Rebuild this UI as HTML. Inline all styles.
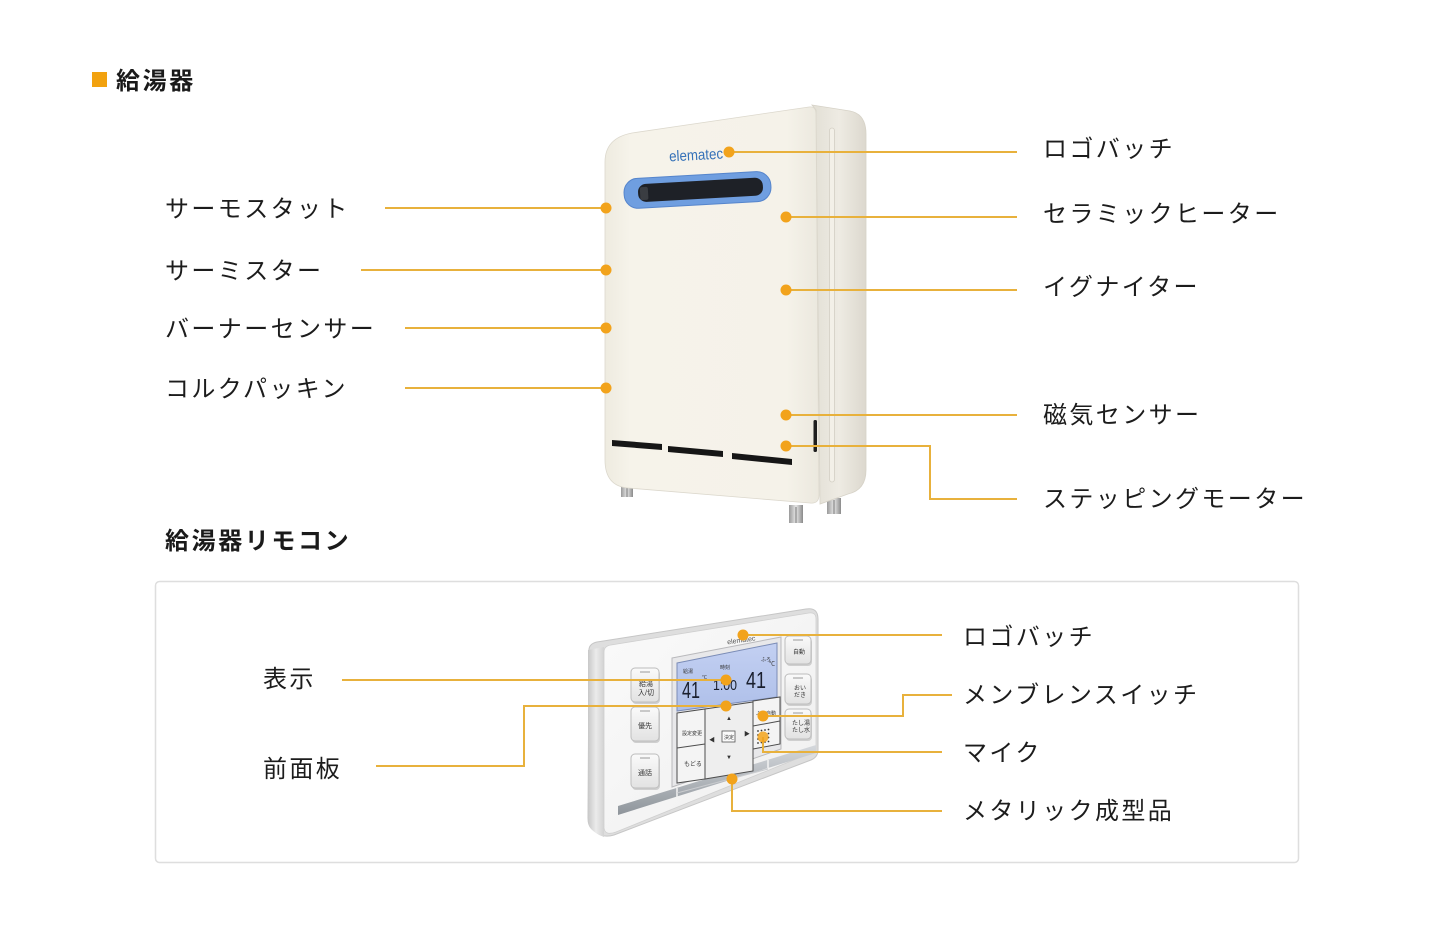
<!DOCTYPE html>
<html><head><meta charset="utf-8"><style>
html,body{margin:0;padding:0;background:#fff;}
svg{display:block;}
.lb{font-family:"Liberation Sans","Noto Sans CJK JP",sans-serif;font-size:24px;fill:#1c1c1c;letter-spacing:2.4px;}
.tt{font-family:"Liberation Sans","Noto Sans CJK JP",sans-serif;font-size:24px;font-weight:bold;fill:#1a1a1a;letter-spacing:2.6px;}
.sm{font-family:"Liberation Sans","Noto Sans CJK JP",sans-serif;fill:#333;}
.ln{stroke:#e8b13c;stroke-width:2;fill:none;}
.dt{fill:#f2a31c;}
</style></head><body>
<svg width="1456" height="936" viewBox="0 0 1456 936" xmlns="http://www.w3.org/2000/svg">
<defs>
<linearGradient id="gf" x1="0" y1="0" x2="1" y2="0">
<stop offset="0" stop-color="#eeebe0"/><stop offset="0.12" stop-color="#f6f3ea"/><stop offset="0.85" stop-color="#f5f2e9"/><stop offset="1" stop-color="#ebe8de"/>
</linearGradient>
<linearGradient id="gs" x1="0" y1="0" x2="1" y2="0">
<stop offset="0" stop-color="#e2dfd5"/><stop offset="0.5" stop-color="#eeebe3"/><stop offset="1" stop-color="#dcd8ce"/>
</linearGradient>
<linearGradient id="gfoot" x1="0" y1="0" x2="1" y2="0">
<stop offset="0" stop-color="#9a9a9a"/><stop offset="0.5" stop-color="#e6e6e6"/><stop offset="1" stop-color="#8a8a8a"/>
</linearGradient>
<linearGradient id="rf" x1="0" y1="0" x2="1" y2="1">
<stop offset="0" stop-color="#fafafa"/><stop offset="1" stop-color="#efefef"/>
</linearGradient>
<linearGradient id="rs" x1="0" y1="0" x2="1" y2="0">
<stop offset="0" stop-color="#c8c8c8"/><stop offset="0.5" stop-color="#ebebeb"/><stop offset="1" stop-color="#d2d2d2"/>
</linearGradient>
<linearGradient id="strip" x1="0" y1="0" x2="0" y2="1">
<stop offset="0" stop-color="#d5d8dc"/><stop offset="1" stop-color="#8f959b"/>
</linearGradient>
<linearGradient id="lcd" x1="0" y1="0" x2="0" y2="1">
<stop offset="0" stop-color="#c3d0f2"/><stop offset="1" stop-color="#aebfe9"/>
</linearGradient>
<linearGradient id="btn" x1="0" y1="0" x2="0" y2="1">
<stop offset="0" stop-color="#fafafa"/><stop offset="1" stop-color="#e2e2e2"/>
</linearGradient>
</defs>

<!-- Title -->
<rect x="92" y="72" width="15" height="15" fill="#f2a20f"/>
<text class="tt" x="116" y="89">給湯器</text>

<!-- Water heater -->
<rect x="621" y="484" width="12" height="13" fill="url(#gfoot)"/>
<line x1="627" y1="486" x2="627" y2="497" stroke="#777" stroke-width="1"/>
<rect x="789" y="505" width="14" height="18" fill="url(#gfoot)"/>
<line x1="796" y1="507" x2="796" y2="523" stroke="#777" stroke-width="1"/>
<rect x="827" y="498" width="14" height="16" fill="url(#gfoot)"/>
<line x1="834" y1="500" x2="834" y2="514" stroke="#777" stroke-width="1"/>
<path d="M812,105 L850,111 Q866,114 866,134 L866,470 Q866,490 848,494 L820,504 L816,110 Z" fill="url(#gs)" stroke="#d6d2c7" stroke-width="0.8"/>
<rect x="829.5" y="128" width="5" height="354" rx="2.5" fill="#f3f0e8" stroke="#d3cfc4" stroke-width="0.8"/>
<path d="M605,162 Q605,138 632,133 L809,107 Q816,106 816,114 L819,495 Q819,504 810,503 L628,488 Q605,486 605,460 Z" fill="url(#gf)" stroke="#dcd8cd" stroke-width="0.8"/>
<text x="669" y="160" font-family="Liberation Sans, sans-serif" font-size="15" fill="#3571b8" textLength="54" lengthAdjust="spacingAndGlyphs" transform="rotate(-3 696 154)">elematec</text>
<g transform="rotate(-3.2 697 190)">
<rect x="624" y="175" width="147" height="30" rx="14" fill="#6f9ee0" stroke="#5685cc" stroke-width="1"/>
<rect x="638" y="181" width="125" height="18" rx="8" fill="#1e2127"/>
<rect x="640" y="184" width="8" height="13" rx="2" fill="#3a3d42"/>
</g>
<polygon points="612,440 662,444 662,450 612,446" fill="#161616"/>
<polygon points="668,446 723,451 723,457 668,452" fill="#161616"/>
<polygon points="732,453 792,459 792,465 732,459" fill="#161616"/>
<rect x="813.5" y="420" width="3.5" height="32" rx="1.5" fill="#1d1d1d"/>

<line class="ln" x1="385" y1="208" x2="606" y2="208"/>
<line class="ln" x1="361" y1="270" x2="606" y2="270"/>
<line class="ln" x1="405" y1="328" x2="606" y2="328"/>
<line class="ln" x1="405" y1="388" x2="606" y2="388"/>
<line class="ln" x1="729" y1="152" x2="1017" y2="152"/>
<line class="ln" x1="786" y1="217" x2="1017" y2="217"/>
<line class="ln" x1="786" y1="290" x2="1017" y2="290"/>
<line class="ln" x1="786" y1="415" x2="1017" y2="415"/>
<polyline class="ln" points="786,446 930,446 930,499 1017,499"/>
<circle class="dt" cx="606" cy="208" r="5.5"/>
<circle class="dt" cx="606" cy="270" r="5.5"/>
<circle class="dt" cx="606" cy="328" r="5.5"/>
<circle class="dt" cx="606" cy="388" r="5.5"/>
<circle class="dt" cx="729" cy="152" r="5.5"/>
<circle class="dt" cx="786" cy="217" r="5.5"/>
<circle class="dt" cx="786" cy="290" r="5.5"/>
<circle class="dt" cx="786" cy="415" r="5.5"/>
<circle class="dt" cx="786" cy="446" r="5.5"/>

<text class="lb" x="165" y="217">サーモスタット</text>
<text class="lb" x="165" y="279">サーミスター</text>
<text class="lb" x="165" y="337">バーナーセンサー</text>
<text class="lb" x="165" y="397">コルクパッキン</text>
<text class="lb" x="1043" y="157">ロゴバッチ</text>
<text class="lb" x="1043" y="222">セラミックヒーター</text>
<text class="lb" x="1043" y="295">イグナイター</text>
<text class="lb" x="1043" y="423">磁気センサー</text>
<text class="lb" x="1043" y="507">ステッピングモーター</text>

<!-- Remote section -->
<text class="tt" x="165" y="549">給湯器リモコン</text>
<rect x="155.5" y="581.5" width="1143" height="281" rx="4" fill="#fff" stroke="#dedede" stroke-width="1.5"/>

<path d="M589,652 Q588,644 597,642 L806,609 Q818,607 818,619 L818,750 Q818,757 811,760 L614,835 Q604,838 597,833 L591,828 Q588,825 588,818 Z" fill="#dedede" stroke="#c6c6c6" stroke-width="1"/>
<path d="M588,650 L604,647 L604,837 Q596,834 591,829 Q588,825 588,818 Z" fill="url(#rs)"/>
<path d="M604,652 Q604,646 611,645 L809,613 Q816,612 816,619 L816,751 L616,832 Q605,836 604,828 Z" fill="url(#rf)" stroke="#cfcfcf" stroke-width="0.8"/>
<polygon points="618,806 816,745 816,753 618,815" fill="url(#strip)"/>
<line x1="677" y1="788" x2="677" y2="797" stroke="#f2f2f2" stroke-width="1.5"/>
<line x1="768" y1="760" x2="768" y2="768" stroke="#f2f2f2" stroke-width="1.5"/>
<line x1="677" y1="793" x2="768" y2="769" stroke="#c9cbce" stroke-width="1"/>

<polygon points="672,658 781,637 781,749 672,787" fill="#e8e8ea" stroke="#b9b9bc" stroke-width="1"/>
<polygon points="677,663 777,643 777,697 677,711" fill="url(#lcd)" stroke="#7b8cb6" stroke-width="1"/>
<text class="sm" x="683" y="673" font-size="5" fill="#1d2233">給湯</text>
<text x="682" y="698" font-family="Liberation Sans, sans-serif" font-size="23" fill="#1a1f2e" textLength="18" lengthAdjust="spacingAndGlyphs">41</text>
<text class="sm" x="702" y="679" font-size="5">℃</text>
<text class="sm" x="720" y="669" font-size="5">時刻</text>
<text x="713" y="690" font-family="Liberation Sans, sans-serif" font-size="15" fill="#1a1f2e" textLength="24" lengthAdjust="spacingAndGlyphs">1:00</text>
<text class="sm" x="761" y="661" font-size="5">ふろ</text>
<text x="746" y="688" font-family="Liberation Sans, sans-serif" font-size="23" fill="#1a1f2e" textLength="20" lengthAdjust="spacingAndGlyphs">41</text>
<text class="sm" x="769" y="666" font-size="6">℃</text>
<g stroke="#4d4d4d" stroke-width="1" fill="#f4f4f4">
<polygon points="677,713 705,709 705,779 677,783"/>
<line x1="677" y1="748" x2="705" y2="744"/>
<polygon points="705,709 753,702 753,771 705,779" fill="#eeeeee"/>
<polygon points="753,701 780,697 780,744 753,749"/>
<line x1="753" y1="726" x2="780" y2="721"/>
</g>
<text class="sm" x="682" y="735" font-size="5">設定変更</text>
<text class="sm" x="684" y="766" font-size="6">もどる</text>
<rect x="722" y="731" width="13" height="11" fill="#fafafa" stroke="#555" stroke-width="0.8"/>
<text class="sm" x="724" y="739" font-size="5">決定</text>
<text class="sm" x="726" y="720" font-size="6">▲</text>
<text class="sm" x="726" y="759" font-size="6">▼</text>
<text class="sm" x="709" y="742" font-size="6">◀</text>
<text class="sm" x="744" y="736" font-size="6">▶</text>
<text class="sm" x="756" y="715" font-size="5">ふろ自動</text>
<g fill="#333">
<circle cx="758" cy="731" r="0.9"/><circle cx="761.5" cy="730.5" r="0.9"/><circle cx="765" cy="730" r="0.9"/><circle cx="768.5" cy="729.5" r="0.9"/>
<circle cx="758" cy="735" r="0.9"/><circle cx="768.5" cy="733.5" r="0.9"/>
<circle cx="758" cy="739" r="0.9"/><circle cx="768.5" cy="737.5" r="0.9"/>
<circle cx="758" cy="743" r="0.9"/><circle cx="761.5" cy="742.5" r="0.9"/><circle cx="765" cy="742" r="0.9"/><circle cx="768.5" cy="741.5" r="0.9"/>
</g>
<g fill="#cfcfcf">
<rect x="632" y="670" width="28" height="34" rx="4"/>
<rect x="632" y="709" width="28" height="34" rx="4"/>
<rect x="632" y="756" width="28" height="34" rx="4"/>
<rect x="786" y="638" width="26" height="28" rx="4"/>
<rect x="786" y="676" width="26" height="30" rx="4"/>
<rect x="786" y="711" width="26" height="30" rx="4"/>
</g>
<g stroke="#bdbdbd" stroke-width="1" fill="url(#btn)">
<rect x="631" y="668" width="28" height="34" rx="4"/>
<rect x="631" y="707" width="28" height="34" rx="4"/>
<rect x="631" y="754" width="28" height="34" rx="4"/>
<rect x="785" y="636" width="26" height="28" rx="4"/>
<rect x="785" y="674" width="26" height="30" rx="4"/>
<rect x="785" y="709" width="26" height="30" rx="4"/>
</g>
<g stroke="#9a9a9a" stroke-width="1">
<line x1="640" y1="672" x2="650" y2="672"/>
<line x1="640" y1="711" x2="650" y2="711"/>
<line x1="640" y1="758" x2="650" y2="758"/>
<line x1="793" y1="640" x2="803" y2="640"/>
<line x1="793" y1="678" x2="803" y2="678"/>
<line x1="793" y1="713" x2="803" y2="713"/>
</g>
<text class="sm" x="639" y="686" font-size="7">給湯</text>
<text class="sm" x="638" y="695" font-size="7">入/切</text>
<text class="sm" x="638" y="728" font-size="7">優先</text>
<text class="sm" x="638" y="775" font-size="7">通話</text>
<text class="sm" x="793" y="654" font-size="6">自動</text>
<text class="sm" x="794" y="690" font-size="6">おい</text>
<text class="sm" x="794" y="697" font-size="6">だき</text>
<text class="sm" x="792" y="725" font-size="6">たし湯</text>
<text class="sm" x="792" y="732" font-size="6">たし水</text>
<text x="727" y="643" font-family="Liberation Sans, sans-serif" font-size="7" fill="#555" transform="rotate(-8 737 640)">elematec</text>

<line class="ln" x1="743" y1="635" x2="942" y2="635"/>
<line class="ln" x1="342" y1="680" x2="726" y2="680"/>
<polyline class="ln" points="376,766 524,766 524,706 726,706"/>
<polyline class="ln" points="763,716 903,716 903,695 952,695"/>
<polyline class="ln" points="763,737 763,752 942,752"/>
<polyline class="ln" points="732,779 732,811 942,811"/>
<circle class="dt" cx="743" cy="635" r="5.5"/>
<circle class="dt" cx="726" cy="680" r="5.5"/>
<circle class="dt" cx="726" cy="706" r="5.5"/>
<circle class="dt" cx="763" cy="716" r="5.5"/>
<circle class="dt" cx="763" cy="737" r="5.5" opacity="0.85"/>
<circle class="dt" cx="732" cy="779" r="5.5"/>

<text class="lb" x="263" y="687">表示</text>
<text class="lb" x="263" y="777">前面板</text>
<text class="lb" x="963" y="645">ロゴバッチ</text>
<text class="lb" x="963" y="703">メンブレンスイッチ</text>
<text class="lb" x="963" y="761">マイク</text>
<text class="lb" x="963" y="819">メタリック成型品</text>
</svg>
</body></html>
